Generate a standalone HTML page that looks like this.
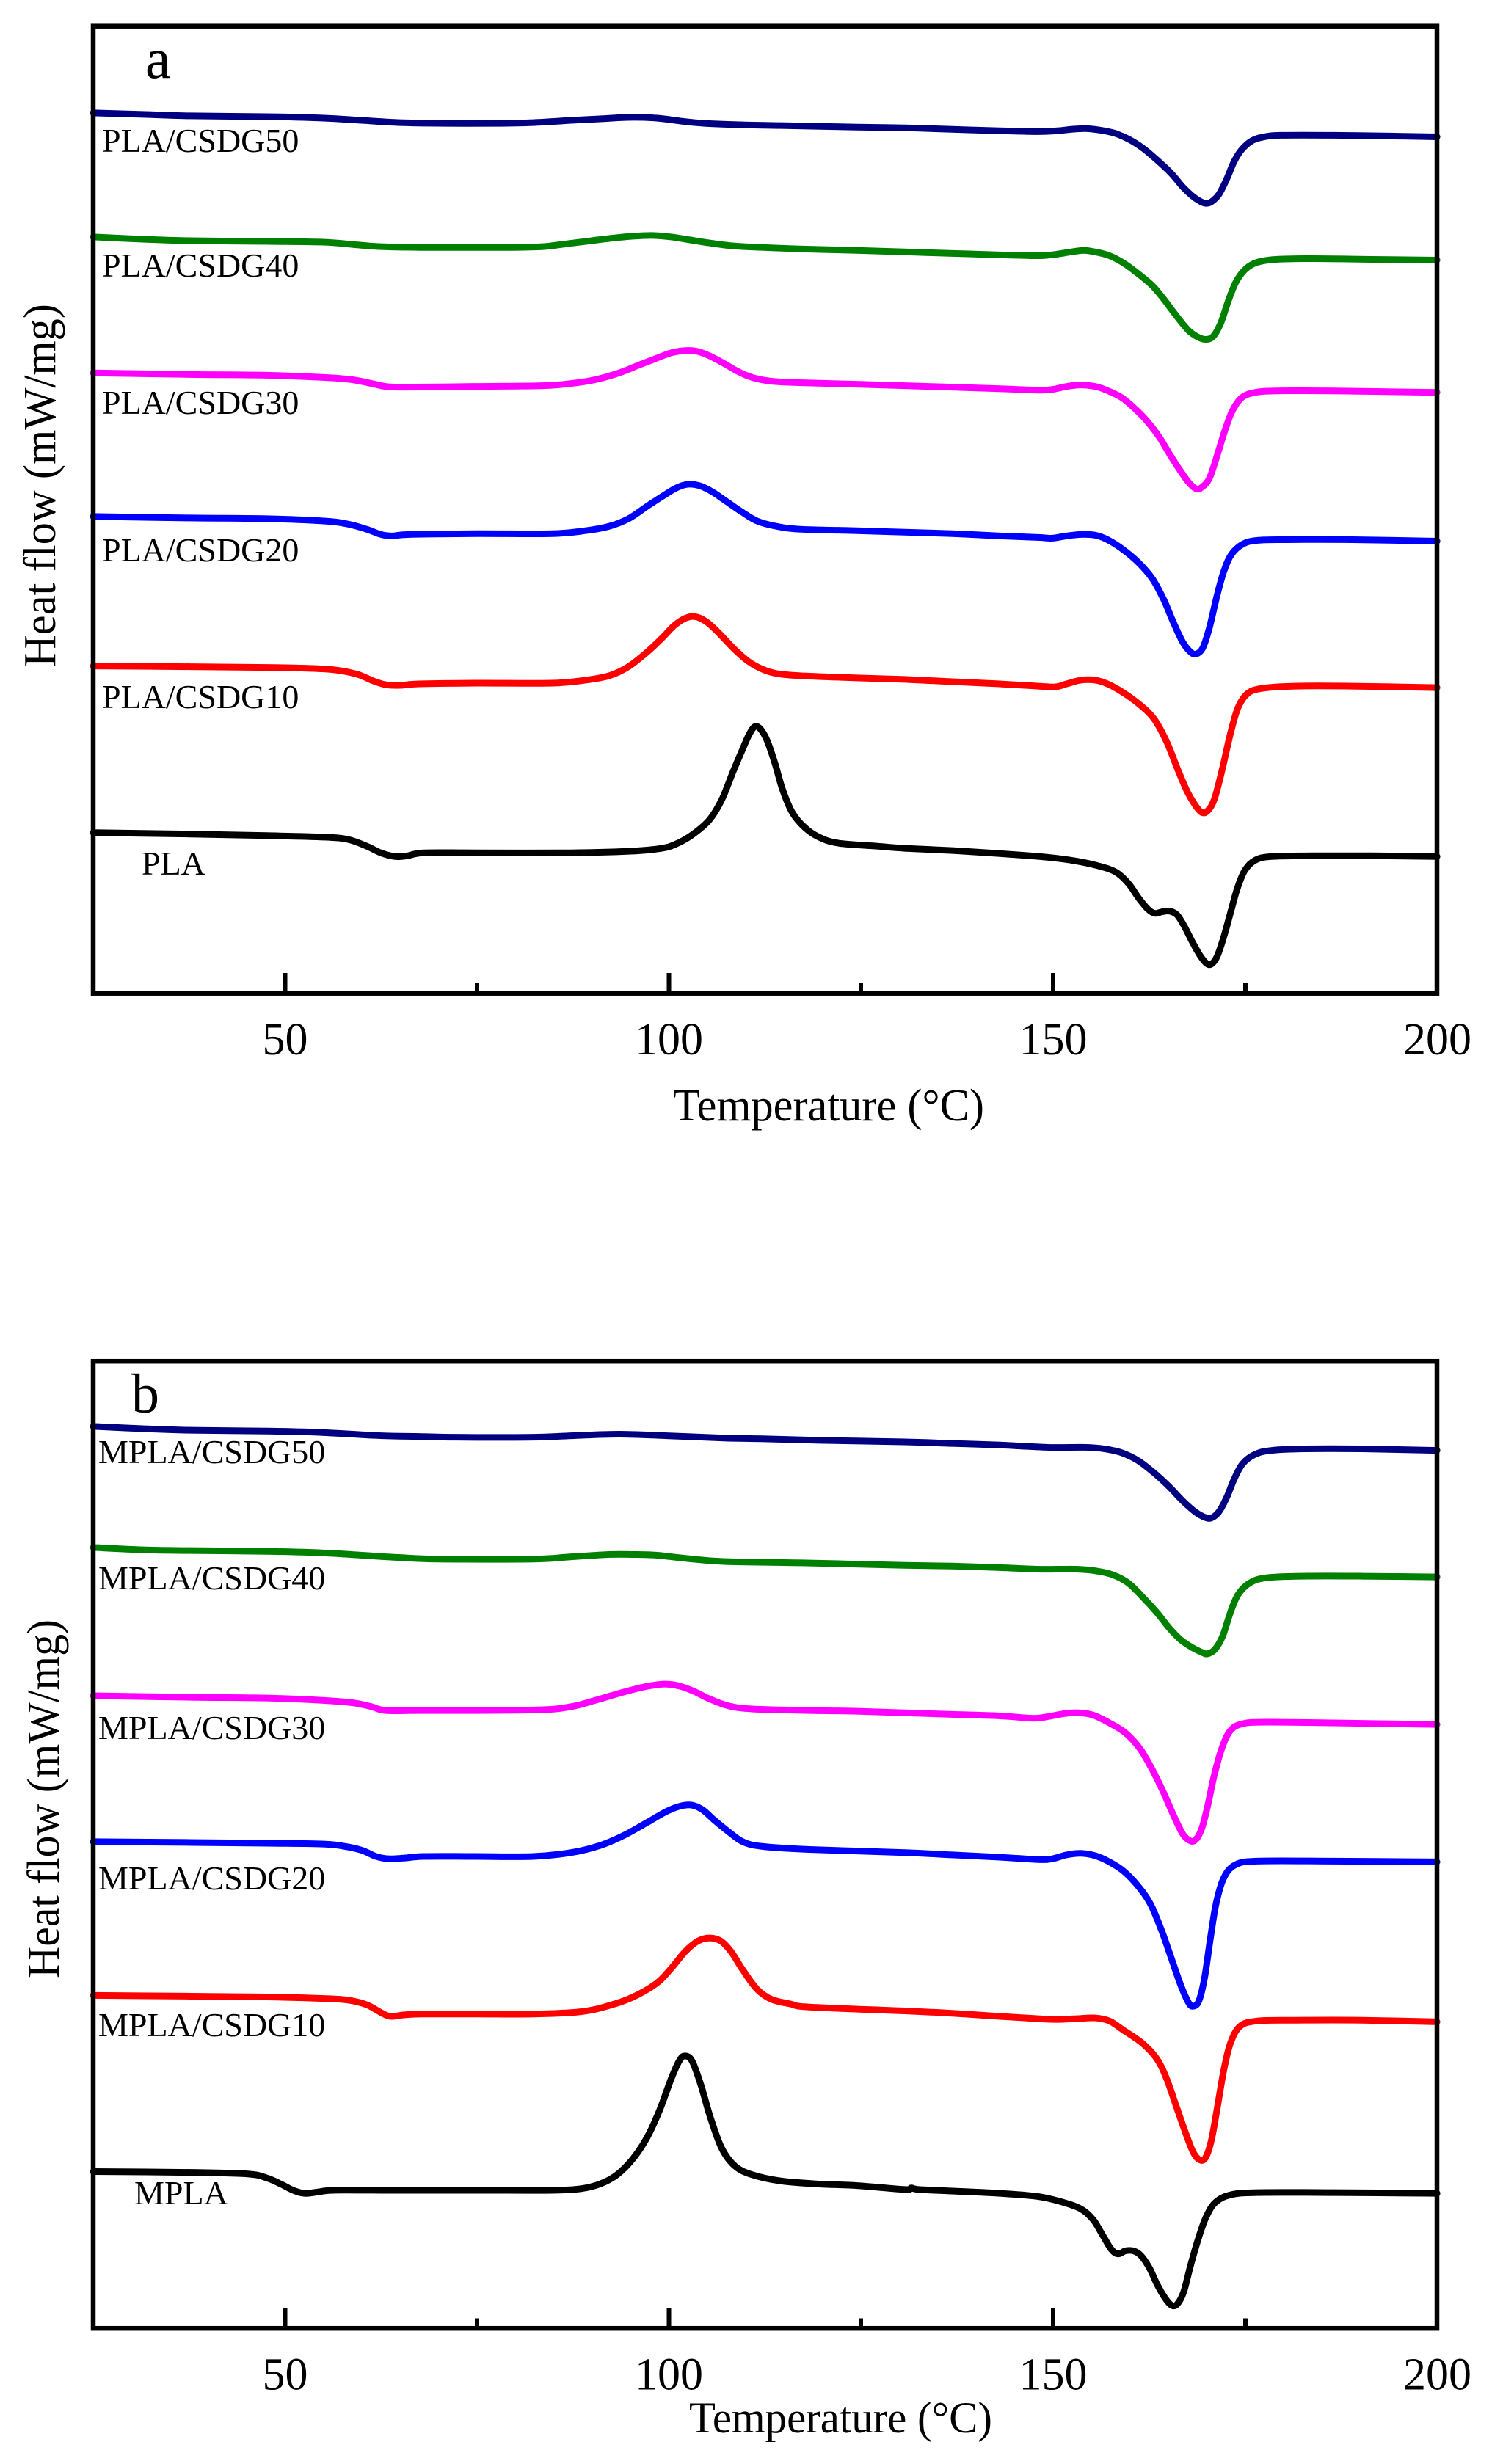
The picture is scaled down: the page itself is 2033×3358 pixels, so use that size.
<!DOCTYPE html>
<html><head><meta charset="utf-8"><style>html,body{margin:0;padding:0;background:#fff}svg{display:block}text{font-family:"Liberation Serif","Times New Roman",serif;fill:#000}</style></head><body>
<svg id="chart" xmlns="http://www.w3.org/2000/svg" width="2033" height="3358" viewBox="0 0 2033 3358">
<rect x="0" y="0" width="2033" height="3358" fill="#fff"/>

<!-- ================= PANEL A ================= -->
<g fill="none" stroke-width="9" stroke-linejoin="round" stroke-linecap="round">
<g transform="matrix(1.2977 0 0 1.01855 -0.17 2.088)">
<polyline vector-effect="non-scaling-stroke" stroke="#000080" points="98,149 150,151 200,153 280,154 340,156 380,159 420,162 470,163 520,163 560,162 600,159 630,157 660,155 690,156 715,160 740,163 780,165 820,166 900,168 950,169 1000,171 1050,173 1090,174 1110,173 1125,171 1140,170 1155,172 1170,176 1185,184 1200,196 1215,212 1230,230 1242,248 1252,260 1260,267 1266,270 1272,268 1280,258 1288,238 1296,214 1304,198 1315,186 1328,181 1345,179 1400,179 1460,180 1509,181"/>
<polyline vector-effect="non-scaling-stroke" stroke="#008000" points="98,315 150,318 200,320 280,321 340,322 370,325 400,328 440,329 480,329 540,329 570,328 590,325 615,321 640,317 665,314 685,313 705,315 725,319 745,323 770,327 800,329 840,331 900,333 950,335 1000,337 1050,339 1080,340 1095,340 1110,338 1125,335 1138,333 1150,335 1165,340 1180,350 1195,364 1210,380 1222,398 1235,420 1248,440 1258,449 1266,452 1274,448 1282,430 1290,400 1298,375 1308,358 1320,349 1340,345 1380,344 1440,345 1509,346"/>
<polyline vector-effect="non-scaling-stroke" stroke="#ff00ff" points="98,497 200,499 280,500 340,503 370,506 390,511 405,515 425,516 500,515 570,514 600,511 625,506 650,497 670,487 690,477 705,470 720,467 732,468 745,474 760,484 775,495 790,503 810,508 840,510 900,512 950,514 1000,516 1050,518 1090,520 1105,519 1120,515 1135,513 1150,515 1162,520 1178,530 1192,545 1205,562 1217,582 1228,605 1238,625 1248,643 1256,652 1262,650 1270,638 1278,608 1286,575 1294,548 1304,530 1318,523 1340,521 1400,521 1509,523"/>
<polyline vector-effect="non-scaling-stroke" stroke="#0000ff" points="98,689 200,691 280,692 340,695 365,699 385,706 400,713 412,715 430,713 500,712 580,712 615,708 640,702 660,692 680,675 697,661 710,651 722,646 735,648 748,656 762,668 778,682 795,695 815,702 840,706 900,708 950,710 1000,712 1050,715 1090,717 1105,718 1120,715 1135,713 1150,714 1163,720 1178,732 1195,750 1210,772 1222,800 1232,830 1242,857 1250,870 1256,873 1263,865 1270,838 1278,795 1285,763 1293,740 1305,726 1320,721 1350,720 1420,720 1509,722"/>
<polyline vector-effect="non-scaling-stroke" stroke="#ff0000" points="98,889 200,890 280,891 320,892 350,894 375,900 392,909 405,914 420,915 440,913 500,912 580,912 615,908 640,902 660,890 680,870 695,852 708,835 720,825 730,823 742,830 755,845 770,865 785,882 800,893 815,899 840,902 900,905 950,907 1000,910 1050,913 1090,916 1108,917 1120,913 1135,908 1150,908 1163,913 1180,925 1198,942 1212,960 1225,990 1236,1025 1246,1055 1255,1075 1262,1085 1268,1083 1275,1068 1283,1030 1292,980 1300,945 1310,926 1325,919 1360,916 1420,916 1509,918"/>
<polyline vector-effect="non-scaling-stroke" stroke="#000000" points="98,1112 200,1114 280,1116 340,1118 365,1121 385,1130 400,1139 415,1144 428,1143 445,1139 500,1139 600,1139 660,1137 695,1133 712,1126 728,1114 745,1095 758,1068 770,1030 780,1000 787,980 793,970 799,974 806,990 814,1020 822,1055 832,1085 845,1105 860,1118 880,1126 920,1130 950,1133 1000,1136 1050,1140 1100,1145 1130,1150 1155,1157 1172,1165 1185,1180 1196,1200 1206,1215 1213,1220 1220,1218 1228,1217 1236,1222 1244,1238 1252,1258 1260,1276 1267,1287 1272,1288 1278,1278 1285,1252 1292,1220 1299,1188 1307,1163 1318,1149 1335,1144 1380,1143 1440,1143 1509,1144"/>
</g>
</g>
<!-- frame A -->
<rect x="127" y="35.7" width="1831" height="1318" fill="none" stroke="#000" stroke-width="6.5"/>
<g stroke="#000" stroke-width="6">
<line x1="388.5" y1="1326" x2="388.5" y2="1353"/>
<line x1="911.5" y1="1326" x2="911.5" y2="1353"/>
<line x1="1435" y1="1326" x2="1435" y2="1353"/>
<line x1="650" y1="1340" x2="650" y2="1353"/>
<line x1="1173" y1="1340" x2="1173" y2="1353"/>
<line x1="1697" y1="1340" x2="1697" y2="1353"/>
</g>
<g font-size="62" text-anchor="middle">
<text x="388.5" y="1437">50</text>
<text x="911.5" y="1437">100</text>
<text x="1435" y="1437">150</text>
<text x="1958.5" y="1437">200</text>
</g>
<text x="917" y="1527" font-size="62" textLength="424" lengthAdjust="spacingAndGlyphs">Temperature (°C)</text>
<text transform="translate(75,661.5) rotate(-90)" x="0" y="0" font-size="62" text-anchor="middle" textLength="495" lengthAdjust="spacingAndGlyphs">Heat flow (mW/mg)</text>
<text x="198" y="106" font-size="78">a</text>
<g font-size="46">
<text x="139" y="207">PLA/CSDG50</text>
<text x="139" y="377">PLA/CSDG40</text>
<text x="139" y="564">PLA/CSDG30</text>
<text x="139" y="765">PLA/CSDG20</text>
<text x="139" y="965">PLA/CSDG10</text>
<text x="193" y="1192">PLA</text>
</g>

<!-- ================= PANEL B ================= -->
<g fill="none" stroke-width="9" stroke-linejoin="round" stroke-linecap="round">
<g transform="matrix(1.2977 0 0 1.058 -0.17 1700.53)">
<polyline vector-effect="non-scaling-stroke" stroke="#000080" points="98,230 150,233 200,235 280,236 340,238 400,242 440,243 480,244 560,244 600,242 650,240 700,242 760,245 800,246 860,248 950,250 1000,252 1050,254 1100,257 1140,257 1160,259 1178,264 1195,274 1212,290 1228,308 1242,326 1255,340 1265,347 1272,348 1280,340 1288,322 1296,298 1305,278 1318,266 1335,261 1370,259 1430,259 1509,261"/>
<polyline vector-effect="non-scaling-stroke" stroke="#008000" points="98,386 150,389 200,390 280,391 340,393 380,396 420,399 460,401 560,401 600,398 640,395 665,395 690,396 720,400 760,404 850,406 950,409 1000,410 1050,412 1090,414 1110,414 1130,414 1150,416 1168,421 1185,432 1200,450 1215,470 1228,490 1240,505 1252,515 1262,521 1268,523 1276,517 1284,500 1292,470 1300,447 1312,432 1330,425 1370,423 1430,423 1509,424"/>
<polyline vector-effect="non-scaling-stroke" stroke="#ff00ff" points="98,577 200,579 280,580 340,583 370,586 390,591 405,596 440,596 500,596 570,595 600,591 625,583 650,574 675,566 698,562 715,565 730,572 745,581 765,590 790,594 850,596 900,597 1000,601 1050,603 1085,606 1100,604 1118,600 1133,599 1148,602 1165,612 1182,625 1197,645 1210,672 1222,702 1232,730 1242,755 1250,764 1256,762 1262,748 1268,720 1275,680 1283,645 1292,622 1305,613 1330,611 1400,612 1509,614"/>
<polyline vector-effect="non-scaling-stroke" stroke="#0000ff" points="98,765 200,766 280,767 340,768 362,771 380,776 395,784 408,787 425,786 445,784 500,784 560,784 600,779 630,770 655,757 680,740 700,726 715,719 727,718 738,724 750,737 765,752 780,765 800,771 850,775 950,779 1000,782 1050,785 1090,788 1105,787 1120,782 1135,780 1150,783 1165,791 1180,803 1195,822 1208,845 1220,880 1230,915 1240,950 1248,972 1253,977 1259,970 1265,940 1271,890 1277,845 1285,812 1297,795 1320,790 1400,790 1509,791"/>
<polyline vector-effect="non-scaling-stroke" stroke="#ff0000" points="98,963 200,964 280,965 340,967 365,969 385,975 400,985 410,990 425,988 445,987 500,987 560,987 610,984 640,976 665,965 690,947 705,928 720,906 733,893 745,889 757,893 768,907 780,930 795,955 810,968 830,974 850,978 950,983 1000,986 1050,990 1090,993 1110,994 1130,993 1150,992 1165,996 1180,1008 1200,1025 1215,1045 1225,1070 1235,1105 1245,1140 1253,1165 1260,1175 1266,1172 1272,1150 1278,1110 1285,1060 1292,1025 1302,1003 1320,996 1360,995 1430,995 1509,997"/>
<polyline vector-effect="non-scaling-stroke" stroke="#000000" points="98,1190 200,1191 260,1193 280,1198 295,1206 308,1214 320,1218 335,1216 350,1214 400,1214 500,1214 580,1214 610,1212 630,1206 648,1194 665,1173 680,1145 693,1110 705,1070 714,1046 720,1041 727,1048 736,1078 746,1120 758,1160 772,1183 790,1194 820,1202 860,1206 900,1208 950,1213 957,1211 965,1213 1000,1215 1050,1218 1090,1222 1115,1229 1135,1238 1148,1252 1158,1272 1167,1290 1174,1296 1182,1292 1190,1292 1198,1298 1207,1314 1215,1335 1223,1352 1230,1362 1236,1361 1243,1345 1250,1312 1258,1278 1266,1250 1276,1230 1292,1220 1320,1217 1400,1217 1509,1218"/>
</g>
</g>
<!-- frame B -->
<rect x="127" y="1855.2" width="1831" height="1318" fill="none" stroke="#000" stroke-width="6.5"/>
<g stroke="#000" stroke-width="6">
<line x1="388.5" y1="3145.5" x2="388.5" y2="3172.5"/>
<line x1="911.5" y1="3145.5" x2="911.5" y2="3172.5"/>
<line x1="1435" y1="3145.5" x2="1435" y2="3172.5"/>
<line x1="650" y1="3159.5" x2="650" y2="3172.5"/>
<line x1="1173" y1="3159.5" x2="1173" y2="3172.5"/>
<line x1="1697" y1="3159.5" x2="1697" y2="3172.5"/>
</g>
<g font-size="62" text-anchor="middle">
<text x="388.5" y="3256.5">50</text>
<text x="911.5" y="3256.5">100</text>
<text x="1435" y="3256.5">150</text>
<text x="1958.5" y="3256.5">200</text>
</g>
<text x="939" y="3315" font-size="60" textLength="413" lengthAdjust="spacingAndGlyphs">Temperature (°C)</text>
<text transform="translate(80,2451.5) rotate(-90)" x="0" y="0" font-size="62" text-anchor="middle" textLength="489" lengthAdjust="spacingAndGlyphs">Heat flow (mW/mg)</text>
<text x="179" y="1925" font-size="76">b</text>
<g font-size="46">
<text x="134" y="1994">MPLA/CSDG50</text>
<text x="134" y="2166">MPLA/CSDG40</text>
<text x="134" y="2370">MPLA/CSDG30</text>
<text x="134" y="2575">MPLA/CSDG20</text>
<text x="134" y="2775">MPLA/CSDG10</text>
<text x="183" y="3004">MPLA</text>
</g>
</svg>
<script>
(function(){
  var NS='http://www.w3.org/2000/svg';
  var pls=document.querySelectorAll('#chart polyline');
  for(var k=0;k<pls.length;k++){
    var pl=pls[k];
    var raw=pl.getAttribute('points').trim().split(/\s+/);
    var pts=[];
    for(var i=0;i<raw.length;i++){var a=raw[i].split(',');pts.push([+a[0],+a[1]]);}
    var d='M'+pts[0][0]+','+pts[0][1];
    for(var i=0;i<pts.length-1;i++){
      var p0=pts[i-1]||pts[i],p1=pts[i],p2=pts[i+1],p3=pts[i+2]||pts[i+1];
      var c1x=p1[0]+(p2[0]-p0[0])/6,c1y=p1[1]+(p2[1]-p0[1])/6;
      var c2x=p2[0]-(p3[0]-p1[0])/6,c2y=p2[1]-(p3[1]-p1[1])/6;
      d+=' C'+c1x.toFixed(2)+','+c1y.toFixed(2)+' '+c2x.toFixed(2)+','+c2y.toFixed(2)+' '+p2[0]+','+p2[1];
    }
    var path=document.createElementNS(NS,'path');
    path.setAttribute('d',d);
    path.setAttribute('stroke',pl.getAttribute('stroke'));
    path.setAttribute('vector-effect','non-scaling-stroke');
    pl.parentNode.replaceChild(path,pl);
  }
})();
</script>
</body></html>
